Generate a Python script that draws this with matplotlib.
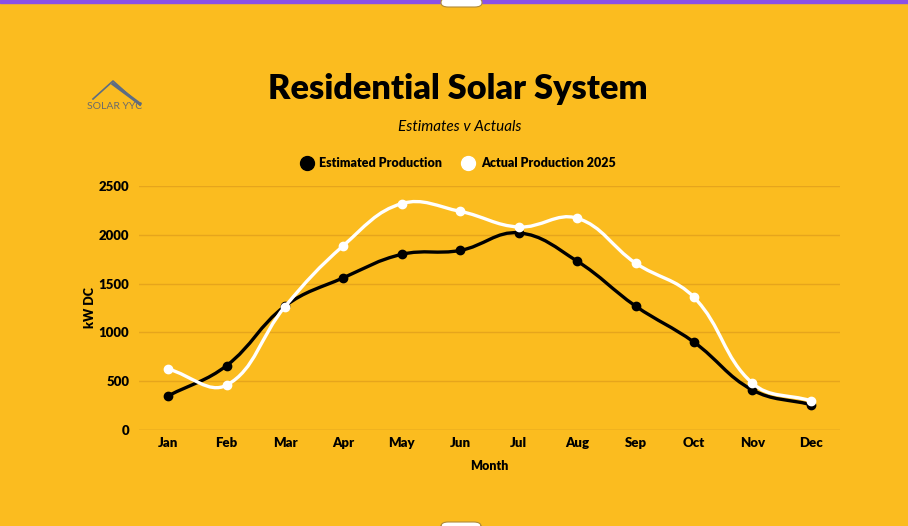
import numpy as np
import matplotlib
matplotlib.use("Agg")
import matplotlib.pyplot as plt
from matplotlib.path import Path
from matplotlib.patches import PathPatch, FancyBboxPatch, Rectangle
from matplotlib.lines import Line2D

# data
months = ["Jan", "Feb", "Mar", "Apr", "May", "Jun",
          "Jul", "Aug", "Sep", "Oct", "Nov", "Dec"]
estimated = [350, 660, 1270, 1560, 1800, 1840, 2020, 1730, 1270, 900, 410, 260]
actual = [625, 460, 1265, 1890, 2320, 2240, 2080, 2170, 1710, 1360, 480, 300]

bg = "#FBBC1F"
grid_col = "#E6A51C"
plt.rcParams['font.family'] = ['Lato', 'DejaVu Sans']

W, H = 908, 526
fig = plt.figure(figsize=(W/100, H/100), dpi=100, facecolor=bg)

# plot area in pixels
x0, x1 = 139, 840
ytop, ybot = 186, 430
ax = fig.add_axes([x0/W, 1 - ybot/H, (x1-x0)/W, (ybot-ytop)/H])
ax.set_facecolor(bg)
ax.set_xlim(-0.5, 11.5)
ax.set_ylim(0, 2500)


def smooth_path(xs, ys, tension=0.4):
    # chart.js style spline, distances measured in pixels
    sx = (x1 - x0) / 12.0
    sy = (ybot - ytop) / 2500.0
    px = np.array(xs, float) * sx
    py = np.array(ys, float) * sy
    n = len(px)
    cin = np.zeros((n, 2))
    cout = np.zeros((n, 2))
    for i in range(n):
        p0 = (px[max(i-1, 0)], py[max(i-1, 0)])
        p1 = (px[i], py[i])
        p2 = (px[min(i+1, n-1)], py[min(i+1, n-1)])
        d01 = np.hypot(p1[0]-p0[0], p1[1]-p0[1])
        d12 = np.hypot(p2[0]-p1[0], p2[1]-p1[1])
        tot = d01 + d12
        s01 = d01/tot if tot else 0
        s12 = d12/tot if tot else 0
        fa = tension*s01
        fb = tension*s12
        cin[i] = (p1[0] - fa*(p2[0]-p0[0]), p1[1] - fa*(p2[1]-p0[1]))
        cout[i] = (p1[0] + fb*(p2[0]-p0[0]), p1[1] + fb*(p2[1]-p0[1]))
    verts = [(px[0], py[0])]
    codes = [Path.MOVETO]
    for i in range(n-1):
        verts += [tuple(cout[i]), tuple(cin[i+1]), (px[i+1], py[i+1])]
        codes += [Path.CURVE4]*3
    verts = np.array(verts)
    verts[:, 0] /= sx
    verts[:, 1] /= sy
    return Path(verts, codes)


xs = np.arange(len(months))
for vals, col, z in [(estimated, "black", 3), (actual, "white", 4)]:
    ax.add_patch(PathPatch(smooth_path(xs, vals), fill=False, edgecolor=col,
                           lw=2.4, zorder=z, capstyle='round', joinstyle='round'))
    ax.plot(xs, vals, 'o', color=col, ms=6, zorder=z)

ax.set_yticks([0, 500, 1000, 1500, 2000, 2500])
ax.set_xticks(xs)
ax.set_xticklabels(months)
ax.grid(axis='y', color=grid_col, lw=1)
ax.set_axisbelow(True)
for s in ax.spines.values():
    s.set_visible(False)
ax.tick_params(axis='x', length=0, labelsize=9.5, pad=5)
ax.tick_params(axis='y', length=0, labelsize=9.5, pad=7)
for lab in ax.get_xticklabels() + ax.get_yticklabels():
    lab.set_fontweight('heavy')
ax.axhline(0, color="#D9A01E", lw=1, zorder=1)

ax.set_ylabel("kW DC", fontsize=9, fontweight='heavy', labelpad=2)
ax.set_xlabel("Month", fontsize=9, fontweight='heavy', labelpad=8)

# titles
fig.text(458/W, 1 - 89/H, "Residential Solar System", ha='center', va='center',
         fontsize=24.7, fontweight='heavy', color='black')
fig.text(460/W, 1 - 127/H, "Estimates v Actuals", ha='center', va='center',
         fontsize=11, style='italic', color='black')

# legend
fig.lines.append(Line2D([307/W], [1-163/H], marker='o', ms=10, color='black',
                        transform=fig.transFigure))
fig.text(319/W, 1-163/H, "Estimated Production", ha='left', va='center',
         fontsize=9, fontweight='heavy')
fig.lines.append(Line2D([468/W], [1-163/H], marker='o', ms=10, color='white',
                        transform=fig.transFigure))
fig.text(481/W, 1-163/H, "Actual Production 2025", ha='left', va='center',
         fontsize=9, fontweight='heavy')

# logo
fig.lines.append(Line2D(np.array([93, 113, 140])/W, 1-np.array([99, 81, 105])/H,
                        color="#5C6C84", lw=1.2, transform=fig.transFigure))
fig.lines.append(Line2D(np.array([113, 140])/W, 1-np.array([84, 104])/H,
                        color="#5C6C84", lw=2.2, transform=fig.transFigure))
fig.text(115/W, 1-106/H, "SOLAR YYC", ha='center', va='center',
         fontsize=7.5, color="#6B6B6B")

# top bar and tabs
fig.patches.append(Rectangle((0, 1-3/H), 1, 3/H, color="#8B50E6",
                             transform=fig.transFigure, zorder=5))
fig.patches.append(FancyBboxPatch((441/W, 1-7/H), 41/W, 9/H,
                                  boxstyle="round,pad=0,rounding_size=0.008",
                                  facecolor='white', edgecolor="#B08A3A", lw=0.8,
                                  transform=fig.transFigure, zorder=6))
fig.patches.append(FancyBboxPatch((441/W, -4/H), 40/W, 8/H,
                                  boxstyle="round,pad=0,rounding_size=0.008",
                                  facecolor='white', edgecolor="#B08A3A", lw=0.8,
                                  transform=fig.transFigure, zorder=6))

fig.savefig("out.png", dpi=100, facecolor=bg)
